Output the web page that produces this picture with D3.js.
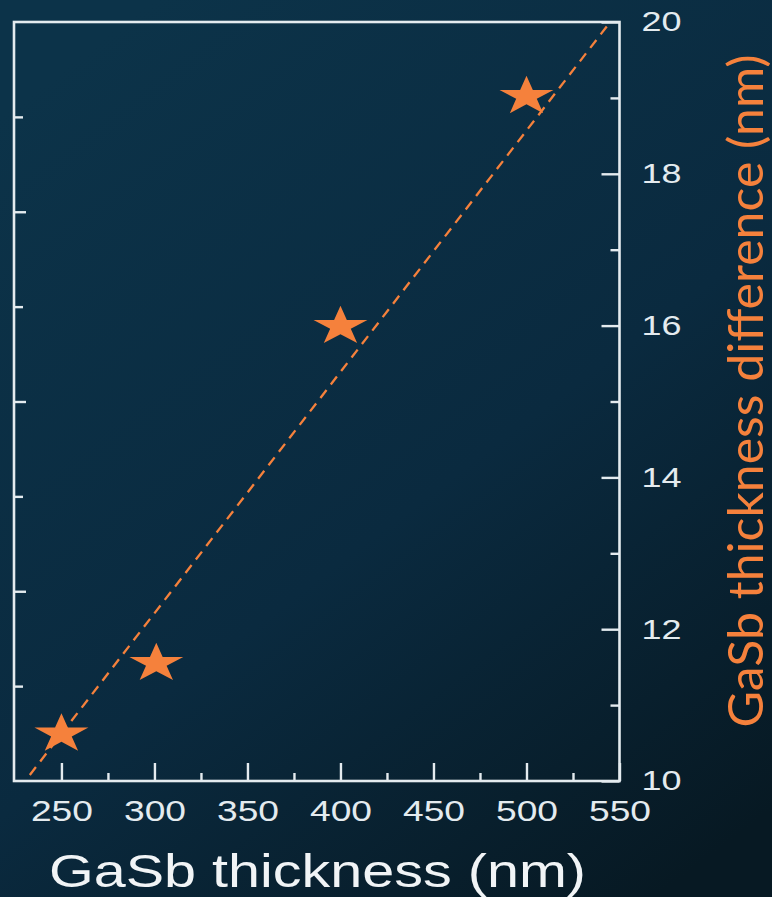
<!DOCTYPE html>
<html><head><meta charset="utf-8">
<script src="https://cdn.jsdelivr.net/npm/d3@7"></script>
<style>html,body{margin:0;padding:0;background:#0a2a3d;} svg{display:block}</style>
</head><body>
<svg id="c" width="772" height="897"></svg>
<script>
// ---- data ----
const thickness = [250, 301, 400, 500];
const thicknessDiff = [10.62, 11.55, 15.99, 19.02];
const fitX = [233, 545];
const fitY = [10.08, 20.0];
const xTicksMajor = [250, 300, 350, 400, 450, 500, 550];
const xTicksMinor = [275, 325, 375, 425, 475, 525];
const yTicksMajor = [10, 12, 14, 16, 18, 20];
const yTicksMinor = [11, 13, 15, 17, 19];
const leftTicksLong = [2, 4, 6];
const leftTicksShort = [1, 3, 5, 7];
const xTitle = "GaSb thickness (nm)";
const yTitle = "GaSb thickness difference (nm)";

// ---- setup ----
const svg = d3.select("#c");
const W = 772, H = 897;
const defs = svg.append("defs");
const lg = defs.append("linearGradient").attr("id", "bg")
  .attr("x1", "0.2").attr("y1", "0").attr("x2", "0.85").attr("y2", "1");
lg.append("stop").attr("offset", "0").attr("stop-color", "#0c3349");
lg.append("stop").attr("offset", "0.55").attr("stop-color", "#0a2a3f");
lg.append("stop").attr("offset", "1").attr("stop-color", "#071923");
svg.append("rect").attr("width", W).attr("height", H).attr("fill", "url(#bg)");

const x = d3.scaleLinear().domain([224.5, 550]).range([14, 619.5]);
const y = d3.scaleLinear().domain([10, 20]).range([781, 22]);
const yl = d3.scaleLinear().domain([0, 8]).range([781, 22]);

const axisColor = "#e4ebef";
const orange = "#f5813c";
const numFont = "'Liberation Sans', Arial, sans-serif";

function styleAxis(g) {
  g.select(".domain").remove();
  g.selectAll(".tick line").attr("stroke", axisColor).attr("stroke-width", 2.4);
}

// fit line (under stars)
const line = d3.line().x(d => x(d[0])).y(d => y(d[1]));
svg.append("path")
  .datum(d3.zip(fitX, fitY))
  .attr("d", line)
  .attr("fill", "none")
  .attr("stroke", orange)
  .attr("stroke-width", 2.3)
  .attr("stroke-dasharray", "10,7");

// bottom axis
const gx = svg.append("g").attr("transform", `translate(0,${y(10)})`)
  .call(d3.axisBottom(x).tickValues(xTicksMajor).tickSizeInner(-18).tickSizeOuter(0).tickPadding(19).tickFormat(d3.format("d")));
styleAxis(gx);
gx.selectAll(".tick text")
  .attr("fill", axisColor).attr("font-family", numFont).attr("font-size", 29)
  .attr("textLength", 62).attr("lengthAdjust", "spacingAndGlyphs");
const gxm = svg.append("g").attr("transform", `translate(0,${y(10)})`)
  .call(d3.axisBottom(x).tickValues(xTicksMinor).tickSizeInner(-8).tickSizeOuter(0).tickFormat(""));
styleAxis(gxm);

// right axis
const gy = svg.append("g").attr("transform", `translate(${x(550)},0)`)
  .call(d3.axisRight(y).tickValues(yTicksMajor).tickSizeInner(-18).tickSizeOuter(0).tickPadding(22).tickFormat(d3.format("d")));
styleAxis(gy);
gy.selectAll(".tick text")
  .attr("fill", axisColor).attr("font-family", numFont).attr("font-size", 28)
  .attr("textLength", 40).attr("lengthAdjust", "spacingAndGlyphs");
const gym = svg.append("g").attr("transform", `translate(${x(550)},0)`)
  .call(d3.axisRight(y).tickValues(yTicksMinor).tickSizeInner(-9).tickSizeOuter(0).tickFormat(""));
styleAxis(gym);

// left axis (unlabelled)
const gl1 = svg.append("g").attr("transform", `translate(${x(224.5)},0)`)
  .call(d3.axisLeft(yl).tickValues(leftTicksLong).tickSizeInner(-12).tickSizeOuter(0).tickFormat(""));
styleAxis(gl1);
const gl2 = svg.append("g").attr("transform", `translate(${x(224.5)},0)`)
  .call(d3.axisLeft(yl).tickValues(leftTicksShort).tickSizeInner(-9).tickSizeOuter(0).tickFormat(""));
styleAxis(gl2);

// frame
svg.append("rect")
  .attr("x", x(224.5)).attr("y", y(20))
  .attr("width", x(550) - x(224.5)).attr("height", y(10) - y(20))
  .attr("fill", "none").attr("stroke", axisColor).attr("stroke-width", 2.6);

// stars
const star = d3.symbol().type(d3.symbolStar).size(481);
svg.append("g").selectAll("path")
  .data(d3.zip(thickness, thicknessDiff))
  .join("path")
  .attr("d", star)
  .attr("transform", d => `translate(${x(d[0])},${y(d[1])}) scale(1.37,1)`)
  .attr("fill", orange);

// titles
svg.append("text")
  .attr("x", 49).attr("y", 887)
  .attr("font-family", numFont).attr("font-size", 46)
  .attr("fill", "#f1f4f6")
  .attr("textLength", 537).attr("lengthAdjust", "spacingAndGlyphs")
  .text(xTitle);

svg.append("text")
  .attr("transform", "translate(763,391) rotate(-90)")
  .attr("text-anchor", "middle")
  .attr("font-family", "Lato, 'Open Sans', sans-serif").attr("font-size", 49)
  .attr("fill", orange)
  .attr("textLength", 673).attr("lengthAdjust", "spacingAndGlyphs")
  .text(yTitle);
</script>
</body></html>
